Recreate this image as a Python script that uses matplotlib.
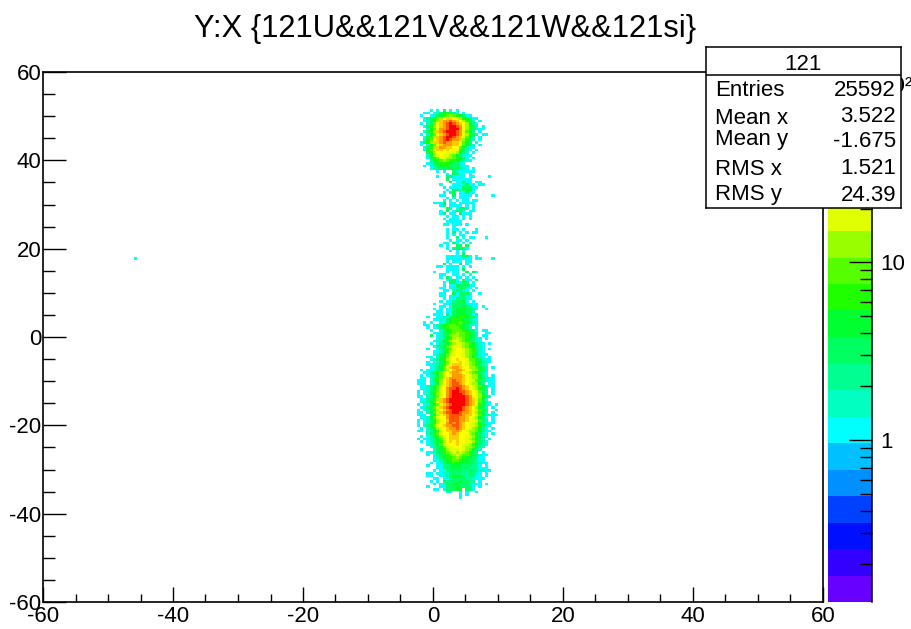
# -*- coding: utf-8 -*-
import numpy as np
import matplotlib
matplotlib.use('Agg')
import matplotlib.pyplot as plt
from matplotlib.colors import ListedColormap, LogNorm
from matplotlib.ticker import MultipleLocator, NullFormatter

plt.rcParams['font.family'] = ['Liberation Sans', 'DejaVu Sans']
plt.rcParams['axes.unicode_minus'] = False

W, H = 912, 629

title = 'Y:X {121U&&121V&&121W&&121si}'
stat_name = '121'
stat_labels = ['Entries', 'Mean x', 'Mean y', 'RMS x', 'RMS y']
stat_values = ['25592', '3.522', '-1.675', '1.521', '24.39']

# kleuren van de palette, onder naar boven
palette = ['#6600ff', '#3300ff', '#0010ff', '#0040ff', '#0090ff', '#00c0ff',
           '#00ffff', '#00ffc0', '#00ff90', '#00ff60', '#00ff30', '#20ff00',
           '#55ff00', '#99ff00', '#e0ff00', '#ffff00', '#ffcc00', '#ff9900',
           '#ff5500', '#ff0000']
z_min, z_max = 0.123, 117.

x_bin = 0.5
y_bin = 0.6
x_first = -4.0    # linkerrand van kolom 0
y_top = 51.6      # bovenrand van rij 0
stray_x = [-45.75]
stray_y = [17.7]
stray_code = ['0']

codes = '0123456789ABCD'
rows = [
    ".......0.0.3.0.0",
    ".....00.01344320.0",
    "....0..0134567654300",
    ".....0234679AA98754300",
    ".....01357ABBCBA97531.0",
    "....0.1368ABCDCBA97420",
    ".....03579ABCDDCB97531.0",
    "......1468BBCDDDB9753100",
    ".....0357ABCDDDCB8642.0",
    "....0.1468ABCDDCB97531.00",
    ".....0357ABCDDCBA8642.0",
    ".....1468ABCDCBBA7531.0",
    "....0357AABCBBAA8642.0",
    "....0.1468ABBBAA96421.0",
    ".....0357ABBAA9964200",
    ".....1468AA9A9985310.0",
    "......3579998887431.0",
    "......14789887643100",
    "......0356887765430.0",
    ".......2456765543200",
    "......013455543310",
    ".....0.023444333100",
    ".......012333433210.0",
    ".........0.0..3100000",
    "............0.3300.0.",
    ".........0..330000.00....0",
    "............3.000000",
    ".............3.00300.00",
    "..........0...0001300.00",
    "...........0.000033300",
    "............0.3313440..",
    "...........0.13.00300",
    "..........00..3.0000.0....0",
    "............0.0.000",
    "...........0.0.0.00.00",
    "........0004.00.00000",
    "..........03.0000.0.0",
    "............31.0331.0",
    "..........0.3.0330.00",
    "..........03.00.3000",
    "............0.00.0.0",
    "...........0.000.0.0",
    "............00000",
    "...........00.000.0",
    "..............0.",
    "............0.00.0...0",
    "............0.3.0.0.00",
    "............0.0.00..",
    "............0..2.0.00...0..",
    ".............0.00.0",
    "...........00.30.0.0",
    "..........0.0..33.3",
    "............0.23330...",
    ".............0.0.0",
    "...............0.3",
    "............00000330.0",
    "............00000000.00...0",
    "............0.000.00",
    "...........3.0..3.0",
    ".........00.0000.0.0",
    "............0000.3",
    "........0...0.00..3.30",
    "..........00..00.0.0",
    "..........0.30.00.0.0",
    "............0330.300.3",
    "...........0.330033.0",
    "...........0.00333300",
    "..........00.0113300.0",
    "...........00.13310.0",
    "..........00..303330..0",
    "..........00.0003300.",
    "...........0.0032310.",
    "..........0.0023340.0",
    "........0..00133331000",
    "..........00.033343200.0",
    "........0.0.0034443320..0",
    ".........00.003444331",
    "........000.3034444301",
    "......0..0010334554331",
    "........00103455543310",
    ".....0.0..003455654321",
    ".....00.01345665543100",
    "......0.013456665431.0",
    ".......0..134566654320.00",
    "........00134567665431..00",
    ".......3.0134677665431.00",
    ".........01345787654310.0",
    "........012457887653210",
    ".......0.023467887654210.0",
    "........0234678887654210",
    "......0..023568998765310.0",
    "........0023578998765310",
    "........01346889987653100",
    "......00.134689998764210.0",
    ".......01245789A9986653100",
    "......0.01356899A987654210",
    "......00123579AAA98765310",
    ".......012468ABBA99776431.0",
    "....0.00134679ABBA9877531.",
    ".....00235689ABBA98765320",
    "....0.01246899BBBA9877420.0",
    "....00.13568ABBBBA987753100",
    "...000.13579ABCBBA988632100",
    "...000.12479ABCCBA987742.00",
    "....00134689ABCCCBA98764200",
    "....00124689BCCDCBA987531.0",
    "...0.0135689BCDDCCBA98632.0",
    "...0.0135789BCDDDCBA98742.0",
    "...00.124689BCDDDDCB987531",
    "....002357ABCDDDDDCBA8640.",
    "....012468ABCDDDDDCBA86420",
    "...0.013468ABCDDDDCBA85310.0",
    "....012468ABCDDDDCBA97531.0",
    "...0.013579ABCDDDCBA98642..0",
    "...00.2468ABCCDDCBBA87531.0",
    "...000.2478ABCCCCBAA98642100",
    "....00146899BCCCBBA987430.0",
    "...0.0135789ACCCBBA988631.0",
    "...0.0135799BCBCBA988742100",
    "...0.124689ABBCCBA98875310",
    "....0.135789ABBCBA9876420.0",
    "...00.124589AABBA987764200",
    "......1346899ABA999765310.0",
    "....0.0135789AAA998875320",
    "...0.00234689AAA99876431.0",
    "....0.0134579A9A998875320",
    "......012468899A988754310",
    ".......02346889998776421.",
    "....0...134578889876431",
    "......0013456787876532.0",
    "......0.02345678766543100",
    "........0134556765443200",
    "........0023456654433100",
    ".......0.0134455444332100",
    "......0..00233443333220.0",
    ".........0033343333222000",
    "........0.0023333323321100",
    "......00.00113333223210.0",
    "......00..0023443322200.0",
    "........00.0023333221000",
    ".......0.0.3233343322.0",
    "........0.0033442321000.0",
    "......0...00333443330.0",
    "........00.033344.330",
    "............00..0.0..0",
    "................0.0",
    "................0",
]


def band_value(code):
    # midden van de kleurband, op log-schaal
    band = 6 + codes.index(code)
    return z_min * (z_max / z_min) ** ((band + 0.5) / len(palette))


x_edges = np.arange(-60, 60.01, x_bin)
y_edges = np.arange(-60, 60.01, y_bin)
z = np.full((len(y_edges) - 1, len(x_edges) - 1), np.nan)
col0 = int(round((x_first + 60) / x_bin))
row0 = int(round((y_top + 60) / y_bin)) - 1
for r, row in enumerate(rows):
    for c, ch in enumerate(row):
        if ch != '.':
            z[row0 - r, col0 + c] = band_value(ch)
for sx, sy, ch in zip(stray_x, stray_y, stray_code):
    z[int((sy + 60) / y_bin), int((sx + 60) / x_bin)] = band_value(ch)


def box(left, top, right, bottom):
    return [left / W, 1 - bottom / H, (right - left) / W, (bottom - top) / H]


fig = plt.figure(figsize=(W / 100, H / 100), dpi=100)
ax = fig.add_axes(box(43, 72, 823, 602))
cmap = ListedColormap(palette)
norm = LogNorm(z_min, z_max)
mesh = ax.pcolormesh(x_edges, y_edges, np.ma.masked_invalid(z), cmap=cmap,
                     norm=norm, linewidth=0, antialiased=False)
ax.set_xlim(-60, 60)
ax.set_ylim(-60, 60)
ax.xaxis.set_major_locator(MultipleLocator(20))
ax.xaxis.set_minor_locator(MultipleLocator(5))
ax.yaxis.set_major_locator(MultipleLocator(20))
ax.yaxis.set_minor_locator(MultipleLocator(5))
ax.tick_params(axis='x', which='major', direction='in', length=11, width=1,
               labelsize=16, pad=3)
ax.tick_params(axis='x', which='minor', direction='in', length=5.5, width=1)
ax.tick_params(axis='y', which='major', direction='in', length=16.5, width=1,
               labelsize=16, pad=1)
ax.tick_params(axis='y', which='minor', direction='in', length=8.3, width=1)
for s in ax.spines.values():
    s.set_linewidth(1.2)

fig.text(445 / W, 1 - 29 / H, title, fontsize=22.2, ha='center', va='center')

cax = fig.add_axes(box(828, 72, 872, 602))
cb = fig.colorbar(mesh, cax=cax)
cb.outline.set_visible(False)
cax.spines['right'].set_visible(True)
cax.spines['right'].set_linewidth(1.1)
cb.set_ticks([1, 10, 100])
cb.set_ticklabels(['1', '10', '10\u00b2'])
cax.set_yticks([0.2, 0.3, 0.4, 0.5, 0.6, 0.7, 0.8, 0.9, 2, 3, 4, 5, 6, 7, 8, 9,
                20, 30, 40, 50, 60, 70, 80, 90], minor=True)
cax.yaxis.set_minor_formatter(NullFormatter())
cax.tick_params(axis='y', which='major', direction='in', length=16.5, width=1,
                labelsize=16, pad=6)
cax.tick_params(axis='y', which='minor', direction='in', length=8.3, width=1)

# statistiekbox, in pixels van de figuur
sb = fig.add_axes(box(706, 47, 901, 208), zorder=5)
sb.set_xlim(706, 901)
sb.set_ylim(208, 47)
sb.set_xticks([])
sb.set_yticks([])
sb.set_facecolor('white')
for s in sb.spines.values():
    s.set_linewidth(1.1)
sb.axhline(75, color='black', lw=1.1)
sb.text(803, 64, stat_name, fontsize=16, ha='center', va='center')
label_y = [90.5, 118.5, 139.5, 169.5, 194.5]
value_y = [90.5, 116.5, 141.5, 168.5, 195.5]
for lab, val, yl, yv in zip(stat_labels, stat_values, label_y, value_y):
    sb.text(715, yl, lab, fontsize=16, ha='left', va='center')
    sb.text(896, yv, val, fontsize=16, ha='right', va='center')

fig.savefig('out.png', dpi=100)
